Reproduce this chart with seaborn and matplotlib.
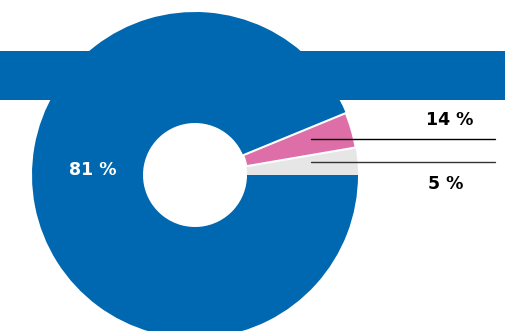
import matplotlib
matplotlib.use("Agg")
import matplotlib.pyplot as plt
import seaborn as sns
from matplotlib.patches import Rectangle

# ─────────────────────────────────────────────
# DATA
# ─────────────────────────────────────────────
labels = ["81 %", "14 %", "5 %"]
# visible wedge shares as drawn in the picture (gray, pink, blue order)
wedge_shares = [2.7, 3.5, 93.8]
wedge_colors = ["#e6e6e6", "#dd6ea7", "#0068b1"]

sns.set_theme(style="white")
plt.rcParams["font.family"] = ["DejaVu Sans"]

W, H = 505, 331
fig = plt.figure(figsize=(W / 100, H / 100), dpi=100)
ax = fig.add_axes([0, 0, 1, 1])

# donut
wedges, _ = ax.pie(wedge_shares, colors=wedge_colors, startangle=0, counterclock=True,
                   center=(195, H - 175), radius=163,
                   wedgeprops=dict(width=111, linewidth=0))
# only the pink slice gets white separators
wedges[1].set_edgecolor("white")
wedges[1].set_linewidth(1.5)
wedges[1].set_zorder(3)

# blue band across the top
ax.add_patch(Rectangle((0, H - 100), W, 49, color="#0068b1", zorder=5, lw=0))

# leader lines
ax.plot([311, 495], [H - 139, H - 139], color="black", lw=1, zorder=6)
ax.plot([311, 495], [H - 162, H - 162], color="#333333", lw=1, zorder=6)

# labels
txt = dict(fontsize=12.5, fontweight="bold", ha="center", va="center", zorder=7)
ax.text(93, H - 170, labels[0], color="white", **txt)
ax.text(450, H - 120, labels[1], color="black", **txt)
ax.text(446, H - 184, labels[2], color="black", **txt)

ax.set_xlim(0, W)
ax.set_ylim(0, H)
ax.set_aspect("equal")
ax.axis("off")

fig.savefig("out.png", dpi=100)
plt.close()
